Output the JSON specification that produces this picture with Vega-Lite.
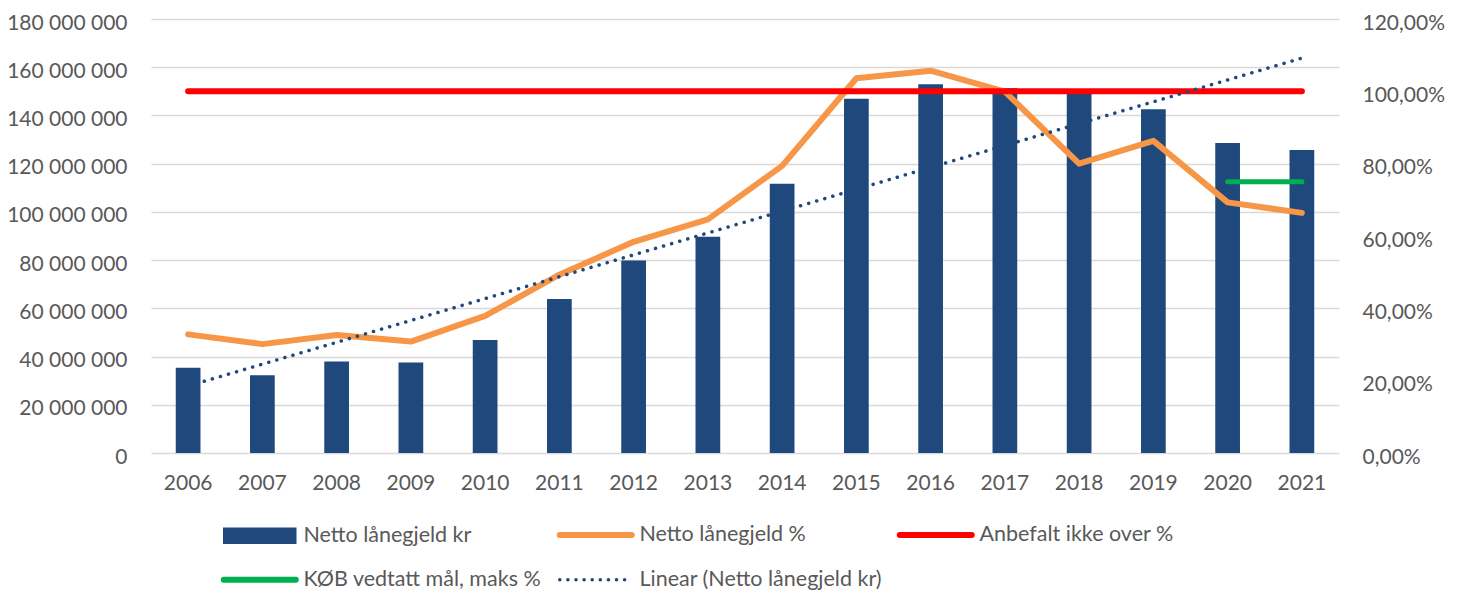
{
  "$schema": "https://vega.github.io/schema/vega-lite/v6.json",
  "width": 1188,
  "height": 434,
  "autosize": {"type": "none"},
  "padding": {"left": 151, "top": 19, "right": 122, "bottom": 139},
  "background": "white",
  "config": {
    "view": {"stroke": null},
    "font": "Lato",
    "axis": {
      "labelFont": "Lato",
      "labelFontSize": 21,
      "labelColor": "#595959",
      "domain": false,
      "ticks": false,
      "tickSize": 0,
      "title": null,
      "gridColor": "#D9D9D9",
      "gridWidth": 1.5
    },
    "legend": {"labelFont": "Lato"}
  },
  "datasets": {
    "main": [
      {"year": 2006, "kr": 35400000, "pct": 0.328, "anbefalt": 1.0},
      {"year": 2007, "kr": 32200000, "pct": 0.301, "anbefalt": 1.0},
      {"year": 2008, "kr": 37900000, "pct": 0.326, "anbefalt": 1.0},
      {"year": 2009, "kr": 37500000, "pct": 0.308, "anbefalt": 1.0},
      {"year": 2010, "kr": 46900000, "pct": 0.379, "anbefalt": 1.0},
      {"year": 2011, "kr": 63900000, "pct": 0.493, "anbefalt": 1.0},
      {"year": 2012, "kr": 79800000, "pct": 0.584, "anbefalt": 1.0},
      {"year": 2013, "kr": 89700000, "pct": 0.646, "anbefalt": 1.0},
      {"year": 2014, "kr": 111700000, "pct": 0.794, "anbefalt": 1.0},
      {"year": 2015, "kr": 146900000, "pct": 1.036, "anbefalt": 1.0},
      {"year": 2016, "kr": 152900000, "pct": 1.057, "anbefalt": 1.0},
      {"year": 2017, "kr": 151300000, "pct": 0.999, "anbefalt": 1.0},
      {"year": 2018, "kr": 149500000, "pct": 0.8, "anbefalt": 1.0},
      {"year": 2019, "kr": 142600000, "pct": 0.863, "anbefalt": 1.0},
      {"year": 2020, "kr": 128600000, "pct": 0.693, "anbefalt": 1.0},
      {"year": 2021, "kr": 125700000, "pct": 0.664, "anbefalt": 1.0}
    ],
    "maal": [
      {"year": 2020, "maal": 0.75},
      {"year": 2021, "maal": 0.75}
    ]
  },
  "encoding": {
    "x": {
      "field": "year",
      "type": "ordinal",
      "scale": {"paddingInner": 0.667, "paddingOuter": 0.3335},
      "axis": {"labelAngle": 0, "labelPadding": 19, "grid": false, "title": null}
    }
  },
  "layer": [
    {
      "data": {"name": "main"},
      "mark": {"type": "bar"},
      "encoding": {
        "y": {
          "field": "kr",
          "type": "quantitative",
          "scale": {"domain": [0, 180000000], "nice": false},
          "axis": {
            "orient": "left",
            "grid": true,
            "values": [0, 20000000, 40000000, 60000000, 80000000, 100000000, 120000000, 140000000, 160000000, 180000000],
            "labelExpr": "replace(replace(format(datum.value, ','), ',', ' '), ',', ' ')",
            "labelPadding": 24,
            "labelOffset": 4
          }
        },
        "color": {
          "datum": "Netto lånegjeld kr",
          "type": "nominal",
          "scale": {
            "domain": ["Netto lånegjeld kr", "Netto lånegjeld %", "Anbefalt ikke over %", "KØB vedtatt mål, maks %", "Linear (Netto lånegjeld kr)"],
            "range": ["#1F497D", "#F79646", "#FF0000", "#00B050", "#1F497D"]
          },
          "legend": {
            "orient": "none",
            "legendX": 98,
            "legendY": 505,
            "direction": "horizontal",
            "columns": 3,
            "title": null,
            "padding": 0,
            "labelFontSize": 21.5,
            "labelColor": "#595959",
            "symbolSize": 900,
            "labelOffset": 33,
            "columnPadding": 5,
            "rowPadding": 20,
            "labelLimit": 400,
            "encode": {
              "symbols": {
                "update": {
                  "shape": {"signal": "datum.value === 'Netto lånegjeld kr' ? 'M-2.45,-0.55H2.45V0.55H-2.45Z' : 'M-2.4,0H2.4'"},
                  "fill": {"signal": "datum.value === 'Netto lånegjeld kr' ? '#1F497D' : 'transparent'"},
                  "stroke": {"signal": "datum.value === 'Netto lånegjeld kr' ? 'transparent' : scale('color', datum.value)"},
                  "strokeWidth": {"signal": "datum.value === 'Netto lånegjeld kr' ? 0 : (datum.value === 'Linear (Netto lånegjeld kr)' ? 3.5 : 6)"},
                  "strokeDash": {"signal": "datum.value === 'Linear (Netto lånegjeld kr)' ? [0.1, 8] : [1, 0]"},
                  "strokeCap": {"value": "round"},
                  "opacity": {"value": 1}
                }
              }
            }
          }
        }
      }
    },
    {
      "data": {"name": "main"},
      "mark": {"type": "line", "strokeWidth": 6, "strokeCap": "round", "strokeJoin": "round"},
      "encoding": {
        "y": {
          "field": "pct",
          "type": "quantitative",
          "scale": {"domain": [0, 1.2], "nice": false},
          "axis": {
            "orient": "right",
            "grid": false,
            "values": [0, 0.2, 0.4, 0.6, 0.8, 1.0, 1.2],
            "labelExpr": "replace(format(datum.value, '.2%'), '.', ',')",
            "labelPadding": 23,
            "labelOffset": 4
          }
        },
        "color": {"datum": "Netto lånegjeld %", "type": "nominal"}
      }
    },
    {
      "data": {"name": "main"},
      "mark": {"type": "line", "strokeWidth": 6, "strokeCap": "round"},
      "encoding": {
        "y": {"field": "anbefalt", "type": "quantitative", "scale": {"domain": [0, 1.2], "nice": false}, "axis": null},
        "color": {"datum": "Anbefalt ikke over %", "type": "nominal"}
      }
    },
    {
      "data": {"name": "maal"},
      "mark": {"type": "line", "strokeWidth": 5, "strokeCap": "round"},
      "encoding": {
        "y": {"field": "maal", "type": "quantitative", "scale": {"domain": [0, 1.2], "nice": false}, "axis": null},
        "color": {"datum": "KØB vedtatt mål, maks %", "type": "nominal"}
      }
    },
    {
      "data": {"name": "main"},
      "transform": [{"regression": "kr", "on": "year"}],
      "mark": {"type": "line", "strokeWidth": 3.5, "strokeCap": "round", "strokeDash": [0.1, 8.3]},
      "encoding": {
        "y": {"field": "kr", "type": "quantitative", "scale": {"domain": [0, 180000000], "nice": false}, "axis": null},
        "color": {"datum": "Linear (Netto lånegjeld kr)", "type": "nominal"}
      }
    }
  ],
  "resolve": {"scale": {"y": "independent"}}
}
